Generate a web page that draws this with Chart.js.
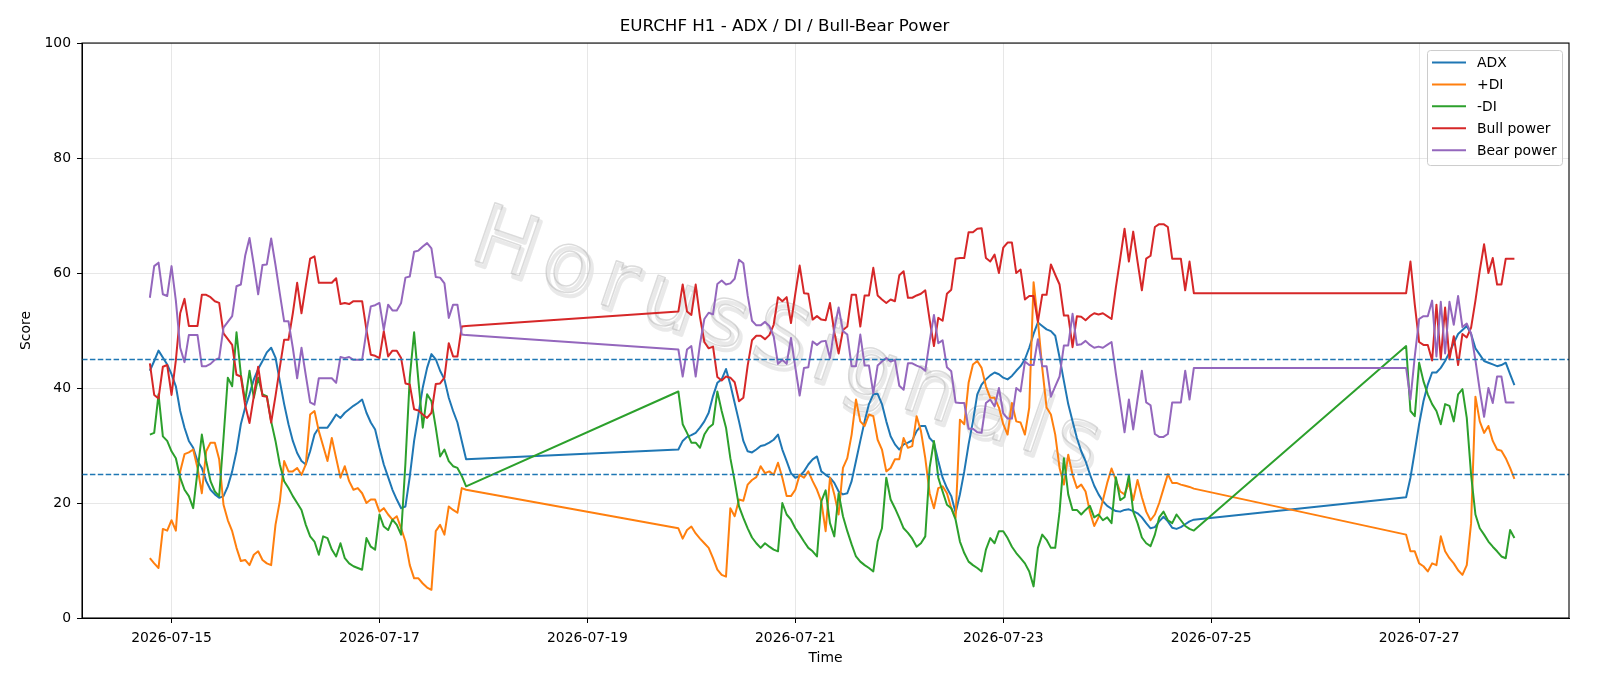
<!DOCTYPE html>
<html>
<head>
<meta charset="utf-8">
<title>EURCHF H1 - ADX / DI / Bull-Bear Power</title>
<script src="https://cdn.jsdelivr.net/npm/chart.js@4.4.1/dist/chart.umd.min.js"></script>
<style>
  html, body { margin: 0; padding: 0; background: #ffffff; }
  #wrap { width: 1600px; height: 686px; }
</style>
</head>
<body>
<div id="wrap"><canvas id="myChart" width="1600" height="686"></canvas></div>
<script>
// Hourly sessions (weekend gaps are joined by straight lines, like the original)
const sessionStarts = ["2026-07-14T19:00:00Z", "2026-07-19T21:00:00Z", "2026-07-26T21:00:00Z"];
const sessionLengths = [74, 120, 26];
const tickDates = ["2026-07-15", "2026-07-17", "2026-07-19", "2026-07-21", "2026-07-23", "2026-07-25", "2026-07-27"];
const xRange = ["2026-07-14T03:20:00Z", "2026-07-28T10:36:00Z"];
const levels = [25, 45];
const watermark = "HorusSignals";

const adx = [
    43.0, 44.7, 46.5, 45.3, 44.1, 42.4, 40.3, 36.0, 33.1, 30.8,
    29.6, 27.3, 26.1, 23.8, 22.3, 21.5, 20.9, 21.2, 22.9, 25.5,
    29.0, 33.7, 36.6, 38.9, 41.5, 43.3, 44.7, 46.2, 47.0, 45.3,
    41.2, 37.2, 33.7, 30.8, 28.7, 27.3, 26.7, 29.0, 31.9, 33.1,
    33.1, 33.1, 34.2, 35.4, 34.8, 35.7, 36.3, 36.9, 37.4, 38.0,
    35.7, 34.0, 32.8, 29.6, 26.7, 24.5, 22.3, 20.6, 19.1, 19.4,
    24.6, 30.8, 35.4, 40.1, 43.5, 45.9, 45.0, 43.0, 41.5, 38.3,
    36.0, 34.0, 30.8, 27.6,

    29.3, 30.8, 31.5, 31.8, 32.2, 33.1, 34.2, 35.7, 38.6, 40.9,
    41.5, 43.3, 40.6, 37.4, 34.2, 30.8, 29.0, 28.8, 29.3, 29.9,
    30.1, 30.5, 31.0, 31.9, 29.3, 27.3, 25.2, 24.4, 24.7, 25.5,
    26.7, 27.6, 28.1, 25.5, 24.9, 24.4, 23.5, 22.0, 21.5, 21.7,
    23.8, 27.3, 30.8, 34.2, 37.2, 38.9, 39.0, 37.2, 34.2, 31.6,
    30.2, 29.3, 30.2, 30.5, 30.9, 32.5, 33.4, 33.4, 31.3, 30.5,
    27.3, 24.4, 22.6, 21.2, 18.3, 21.5, 25.5, 30.2, 34.2, 38.9,
    40.6, 41.5, 42.2, 42.7, 42.4, 41.8, 41.5, 42.1, 43.0, 43.8,
    45.0, 47.0, 49.4, 51.4, 50.8, 50.2, 49.9, 49.1, 45.3, 41.2,
    37.2, 34.2, 31.3, 29.0, 27.3, 25.0, 23.0, 21.5, 20.3, 19.5,
    19.0, 18.6, 18.5, 18.8, 18.9, 18.6, 18.2, 17.5, 16.5, 15.6,
    15.8, 16.8, 17.6, 16.8, 15.7, 15.5, 15.8, 16.3, 16.8, 17.1,

    21.0, 24.4, 29.0, 33.7, 37.7, 40.6, 42.7, 42.7, 43.5, 44.7,
    46.2, 47.8, 49.4, 50.1, 50.8, 49.4, 46.9, 45.8, 44.7, 44.4,
    44.1, 43.8, 44.0, 44.4, 42.4, 40.5
];

const plusDI = [
    10.4, 9.5, 8.7, 15.5, 15.2, 17.0, 15.2, 25.5, 28.5, 28.8,
    29.3, 26.1, 21.7, 29.0, 30.5, 30.5, 27.6, 19.7, 17.0, 15.1,
    12.2, 9.9, 10.1, 9.2, 11.0, 11.6, 10.1, 9.5, 9.2, 16.2,
    20.3, 27.3, 25.5, 25.5, 26.1, 24.9, 26.7, 35.4, 36.0, 32.5,
    29.9, 27.3, 31.3, 27.8, 24.4, 26.4, 23.8, 22.3, 22.6, 21.7,
    20.0, 20.6, 20.6, 18.5, 19.1, 18.0, 17.1, 17.7, 15.6, 13.3,
    9.2, 6.9, 6.9, 6.0, 5.3, 4.9, 15.1, 16.2, 14.5, 19.4,
    18.8, 18.3, 22.6, 22.3,

    15.6, 13.8, 15.3, 15.9, 14.7, 13.8, 13.0, 12.2, 10.4, 8.4,
    7.5, 7.2, 19.1, 17.7, 20.6, 20.4, 23.2, 24.0, 24.5, 26.4,
    25.2, 25.5, 24.9, 27.0, 24.4, 21.2, 21.2, 22.3, 24.9, 24.4,
    25.5, 23.8, 22.3, 20.3, 15.1, 24.4, 21.5, 18.0, 26.1, 27.8,
    31.9, 38.0, 34.2, 33.4, 35.4, 35.1, 31.0, 29.3, 25.5, 26.1,
    27.6, 27.6, 31.3, 29.6, 29.9, 35.1, 32.5, 27.8, 21.7, 19.1,
    22.6, 22.9, 21.7, 19.1, 17.4, 34.5, 33.7, 40.9, 44.1, 44.7,
    43.5, 40.3, 38.3, 38.3, 36.6, 33.7, 31.9, 37.4, 34.2, 34.0,
    31.9, 36.6, 58.4, 51.7, 43.5, 36.6, 35.4, 31.9, 26.1, 23.2,
    28.4, 24.9, 22.6, 23.2, 22.0, 18.5, 16.0, 17.5, 20.5, 23.5,
    26.0, 24.0, 22.0, 21.5, 23.5, 20.5, 24.0, 21.0, 18.5, 17.0,
    18.0, 20.0, 22.5, 25.0, 23.5, 23.5, 23.2, 23.0, 22.8, 22.5,

    14.5, 11.6, 11.6, 9.5, 9.0, 8.1, 9.5, 9.2, 14.2, 11.6,
    10.4, 9.5, 8.3, 7.5, 9.2, 16.5, 38.5, 34.2, 32.2, 33.4,
    30.8, 29.3, 29.1, 27.8, 26.1, 24.2
];

const minusDI = [
    31.9, 32.2, 38.9, 31.6, 30.8, 29.0, 27.8, 24.4, 22.3, 21.2,
    19.1, 25.5, 31.9, 27.3, 23.8, 22.0, 21.2, 31.3, 41.8, 40.3,
    49.7, 42.4, 37.7, 43.0, 38.3, 41.8, 38.9, 38.6, 34.2, 30.8,
    26.7, 23.8, 22.6, 21.2, 20.0, 18.8, 16.2, 14.2, 13.3, 11.0,
    14.2, 13.9, 11.9, 10.7, 13.0, 10.4, 9.5, 9.0, 8.7, 8.4,
    13.9, 12.4, 11.9, 18.0, 15.9, 15.3, 17.1, 16.2, 14.5, 27.0,
    41.8, 49.7, 41.2, 33.1, 38.9, 37.7, 33.1, 28.1, 29.3, 27.3,
    26.4, 26.1, 24.7, 22.9,

    39.4, 33.7, 32.2, 30.5, 30.5, 29.6, 31.9, 33.1, 33.7, 39.4,
    36.0, 33.1, 27.8, 23.8, 19.4, 17.4, 15.6, 14.0, 13.0, 12.2,
    13.0, 12.4, 11.9, 11.6, 20.0, 18.0, 17.1, 15.6, 14.5, 13.3,
    12.2, 11.6, 10.7, 20.3, 22.2, 16.5, 14.2, 21.7, 17.7, 15.1,
    12.8, 10.7, 9.8, 9.2, 8.7, 8.1, 13.3, 15.6, 24.4, 20.6,
    19.1, 17.4, 15.6, 14.8, 13.8, 12.4, 13.0, 14.2, 26.1, 30.8,
    24.4, 22.0, 19.7, 19.1, 17.1, 13.3, 11.3, 9.8, 9.2, 8.7,
    8.1, 11.9, 13.9, 13.0, 15.1, 15.1, 13.9, 12.4, 11.3, 10.4,
    9.5, 8.1, 5.5, 12.2, 14.5, 13.6, 12.2, 12.2, 18.5, 27.8,
    21.5, 18.8, 18.8, 18.0, 18.8, 19.5, 17.5, 18.0, 17.0, 17.5,
    16.5, 24.5, 20.5, 21.0, 24.8, 18.5, 16.5, 14.0, 13.0, 12.5,
    14.5, 17.5, 18.5, 17.0, 16.5, 18.0, 17.0, 16.0, 15.5, 15.2,

    47.3, 36.0, 35.1, 44.4, 41.2, 38.9, 37.2, 36.0, 33.7, 37.2,
    36.9, 34.2, 38.9, 39.8, 34.8, 24.9, 18.0, 15.6, 14.5, 13.3,
    12.4, 11.6, 10.7, 10.4, 15.3, 13.9
];

const bullPower = [
    44.3, 38.8, 38.2, 43.7, 44.0, 38.8, 44.8, 53.0, 55.5, 50.8,
    50.8, 50.8, 56.2, 56.2, 55.8, 55.1, 54.8, 49.5, 48.5, 47.5,
    42.3, 42.0, 37.0, 33.9, 38.6, 43.7, 38.6, 38.5, 34.0, 38.6,
    43.6, 48.4, 48.4, 53.0, 58.3, 53.0, 57.8, 62.5, 62.9, 58.3,
    58.3, 58.3, 58.3, 59.1, 54.6, 54.8, 54.6, 55.1, 55.1, 55.1,
    50.1, 45.8, 45.6, 45.2, 49.9, 45.5, 46.5, 46.5, 45.2, 40.8,
    40.6, 36.3, 36.1, 35.4, 34.8, 35.7, 40.7, 40.8, 41.8, 47.8,
    45.5, 45.5, 50.7, 50.8,

    53.3, 58.0, 53.3, 52.7, 58.0, 52.3, 48.0, 46.9, 47.2, 41.9,
    41.3, 42.0, 41.8, 41.0, 37.7, 38.3, 43.9, 48.3, 49.1, 49.1,
    48.5, 49.2, 51.0, 55.8, 55.1, 55.8, 51.3, 56.4, 61.3, 56.5,
    56.4, 51.9, 52.5, 51.9, 51.8, 54.8, 49.7, 46.0, 50.1, 50.7,
    56.2, 56.2, 50.7, 56.1, 56.1, 60.9, 56.1, 55.4, 54.8, 55.4,
    55.1, 59.6, 60.3, 55.7, 55.7, 56.1, 56.4, 57.0, 51.9, 47.3,
    52.2, 51.7, 56.4, 57.1, 62.5, 62.6, 62.6, 67.1, 67.1, 67.7,
    67.8, 62.6, 62.0, 63.2, 60.0, 64.4, 65.3, 65.3, 60.0, 60.6,
    55.4, 56.0, 56.0, 51.5, 56.2, 56.2, 61.5, 59.7, 58.0, 52.6,
    52.6, 47.1, 52.5, 52.4, 51.8, 52.5, 53.0, 52.8, 53.0, 52.5,
    52.0, 57.5, 62.5, 67.7, 62.0, 67.2, 62.0, 57.0, 62.5, 63.0,
    68.0, 68.5, 68.5, 68.0, 62.5, 62.5, 62.5, 57.0, 62.0, 56.5,

    56.5, 62.0, 54.5, 48.0, 47.5, 47.5, 44.8, 54.5, 45.0, 54.0,
    45.0, 49.0, 44.0, 49.4, 48.8, 50.5, 55.2, 60.4, 65.0, 60.0,
    62.6, 58.0, 58.0, 62.5, 62.5, 62.5
];

const bearPower = [
    55.7, 61.2, 61.8, 56.3, 56.0, 61.2, 55.2, 47.0, 44.5, 49.2,
    49.2, 49.2, 43.8, 43.8, 44.2, 44.9, 45.2, 50.5, 51.5, 52.5,
    57.7, 58.0, 63.0, 66.1, 61.4, 56.3, 61.4, 61.5, 66.0, 61.4,
    56.4, 51.6, 51.6, 47.0, 41.7, 47.0, 42.2, 37.5, 37.1, 41.7,
    41.7, 41.7, 41.7, 40.9, 45.4, 45.2, 45.4, 44.9, 44.9, 44.9,
    49.9, 54.2, 54.4, 54.8, 50.1, 54.5, 53.5, 53.5, 54.8, 59.2,
    59.4, 63.7, 63.9, 64.6, 65.2, 64.3, 59.3, 59.2, 58.2, 52.2,
    54.5, 54.5, 49.3, 49.2,

    46.7, 42.0, 46.7, 47.3, 42.0, 47.7, 52.0, 53.1, 52.8, 58.1,
    58.7, 58.0, 58.2, 59.0, 62.3, 61.7, 56.1, 51.7, 50.9, 50.9,
    51.5, 50.8, 49.0, 44.2, 44.9, 44.2, 48.7, 43.6, 38.7, 43.5,
    43.6, 48.1, 47.5, 48.1, 48.2, 45.2, 50.3, 54.0, 49.9, 49.3,
    43.8, 43.8, 49.3, 43.9, 43.9, 39.1, 43.9, 44.6, 45.2, 44.6,
    44.9, 40.4, 39.7, 44.3, 44.3, 43.9, 43.6, 43.0, 48.1, 52.7,
    47.8, 48.3, 43.6, 42.9, 37.5, 37.4, 37.4, 32.9, 32.9, 32.3,
    32.2, 37.4, 38.0, 36.8, 40.0, 35.6, 34.7, 34.7, 40.0, 39.4,
    44.6, 44.0, 44.0, 48.5, 43.8, 43.8, 38.5, 40.3, 42.0, 47.4,
    47.4, 52.9, 47.5, 47.6, 48.2, 47.5, 47.0, 47.2, 47.0, 47.5,
    48.0, 42.5, 37.5, 32.3, 38.0, 32.8, 38.0, 43.0, 37.5, 37.0,
    32.0, 31.5, 31.5, 32.0, 37.5, 37.5, 37.5, 43.0, 38.0, 43.5,

    43.5, 38.0, 45.5, 52.0, 52.5, 52.5, 55.2, 45.5, 55.0, 46.0,
    55.0, 51.0, 56.0, 50.6, 51.2, 49.5, 44.8, 39.6, 35.0, 40.0,
    37.4, 42.0, 42.0, 37.5, 37.5, 37.5
];

// Build the hourly time axis from the session starts
const hourMs = 3600 * 1000;
let times = [];
sessionStarts.forEach((start, i) => {
    const t0 = Date.parse(start);
    for (let k = 0; k < sessionLengths[i]; k++) {
        times.push(t0 + k * hourMs);
    }
});

const toPoints = (values) => values.map((v, i) => ({ x: times[i], y: v }));

const seriesList = [
    { label: "ADX", values: adx, color: "#1f77b4" },
    { label: "+DI", values: plusDI, color: "#ff7f0e" },
    { label: "-DI", values: minusDI, color: "#2ca02c" },
    { label: "Bull power", values: bullPower, color: "#d62728" },
    { label: "Bear power", values: bearPower, color: "#9467bd" },
];

const font = "'DejaVu Sans', 'Liberation Sans', sans-serif";

// watermark, threshold lines, frame and legend drawn like matplotlib
const decorPlugin = {
    id: "decor",
    beforeDatasetsDraw(chart) {
        const { ctx, chartArea } = chart;
        ctx.save();
        ctx.beginPath();
        ctx.rect(chartArea.left, chartArea.top, chartArea.right - chartArea.left, chartArea.bottom - chartArea.top);
        ctx.clip();
        ctx.translate(790, 346);
        ctx.rotate(19 * Math.PI / 180);
        ctx.font = "84px " + font;
        ctx.letterSpacing = "10px";
        ctx.textAlign = "center";
        ctx.textBaseline = "middle";
        ctx.lineJoin = "round";
        ctx.strokeStyle = "rgba(228,228,228,0.8)";
        ctx.lineWidth = 4;
        ctx.strokeText(watermark, 3, 3);
        ctx.strokeStyle = "rgba(175,175,175,0.45)";
        ctx.lineWidth = 1.5;
        ctx.strokeText(watermark, 0, 0);
        ctx.restore();
    },
    afterDatasetsDraw(chart) {
        const { ctx, chartArea, scales } = chart;
        ctx.save();
        ctx.strokeStyle = "#1f77b4";
        ctx.lineWidth = 1.3;
        ctx.setLineDash([5.5, 2.4]);
        levels.forEach(level => {
            const y = Math.round(scales.y.getPixelForValue(level)) + 0.5;
            ctx.beginPath();
            ctx.moveTo(chartArea.left, y);
            ctx.lineTo(chartArea.right, y);
            ctx.stroke();
        });
        ctx.restore();
    },
    afterDraw(chart) {
        const { ctx, chartArea } = chart;
        ctx.save();
        // frame
        ctx.strokeStyle = "#000";
        ctx.lineWidth = 1.1;
        ctx.strokeRect(chartArea.left, chartArea.top, chartArea.right - chartArea.left, chartArea.bottom - chartArea.top);

        // legend
        const box = { x: chartArea.right - 142, y: chartArea.top + 7, w: 135, h: 115 };
        ctx.fillStyle = "rgba(255,255,255,0.8)";
        ctx.strokeStyle = "#cccccc";
        ctx.lineWidth = 1;
        ctx.beginPath();
        ctx.roundRect(box.x + 0.5, box.y + 0.5, box.w, box.h, 3);
        ctx.fill();
        ctx.stroke();

        ctx.font = "13.9px " + font;
        ctx.textBaseline = "middle";
        ctx.textAlign = "left";
        seriesList.forEach((s, i) => {
            const y = box.y + 12.5 + i * 21.9;
            ctx.strokeStyle = s.color;
            ctx.lineWidth = 2;
            ctx.beginPath();
            ctx.moveTo(box.x + 5, y);
            ctx.lineTo(box.x + 39, y);
            ctx.stroke();
            ctx.fillStyle = "#000";
            ctx.fillText(s.label, box.x + 50, y + 1);
        });
        ctx.restore();
    }
};

const config = {
    type: "line",
    data: {
        datasets: seriesList.map((s, i) => ({
            label: s.label,
            data: toPoints(s.values),
            borderColor: s.color,
            backgroundColor: s.color,
            borderWidth: 2,
            pointRadius: 0,
            tension: 0,
            fill: false,
            borderJoinStyle: "round",
            order: seriesList.length - i
        }))
    },
    options: {
        responsive: false,
        animation: false,
        devicePixelRatio: 1,
        layout: { padding: { top: 0, right: 31, bottom: 0, left: 0 } },
        plugins: {
            legend: { display: false },
            tooltip: { enabled: false },
            title: {
                display: true,
                text: "EURCHF H1 - ADX / DI / Bull-Bear Power",
                color: "#000",
                font: { family: font, size: 16.7, weight: "normal" },
                padding: { top: 17, bottom: 6 }
            }
        },
        scales: {
            x: {
                type: "linear",
                min: Date.parse(xRange[0]),
                max: Date.parse(xRange[1]),
                afterFit(scale) { scale.height = 68; },
                afterBuildTicks(scale) {
                    scale.ticks = tickDates.map(d => ({ value: Date.parse(d + "T00:00:00Z") }));
                },
                ticks: {
                    autoSkip: false,
                    maxRotation: 0,
                    color: "#000",
                    padding: 7,
                    font: { family: font, size: 13.9 },
                    callback: (value) => new Date(value).toISOString().slice(0, 10)
                },
                grid: {
                    color: "rgba(176,176,176,0.3)",
                    lineWidth: 1,
                    drawTicks: true,
                    tickLength: 5,
                    tickColor: "#000",
                    tickWidth: 1
                },
                border: { display: true, color: "#000", width: 1 },
                title: {
                    display: true,
                    text: "Time",
                    color: "#000",
                    font: { family: font, size: 13.9 },
                    padding: { top: 0, bottom: 19 }
                }
            },
            y: {
                min: 0,
                max: 100,
                afterFit(scale) { scale.width = 82; },
                ticks: {
                    stepSize: 20,
                    color: "#000",
                    padding: 6,
                    font: { family: font, size: 13.9 }
                },
                grid: {
                    color: "rgba(176,176,176,0.3)",
                    lineWidth: 1,
                    drawTicks: true,
                    tickLength: 5,
                    tickColor: "#000",
                    tickWidth: 1
                },
                border: { display: true, color: "#000", width: 1 },
                title: {
                    display: true,
                    text: "Score",
                    color: "#000",
                    font: { family: font, size: 13.9 },
                    padding: { top: 18, bottom: 0 }
                }
            }
        }
    },
    plugins: [decorPlugin]
};

const myChart = new Chart(document.getElementById("myChart"), config);
</script>
</body>
</html>
